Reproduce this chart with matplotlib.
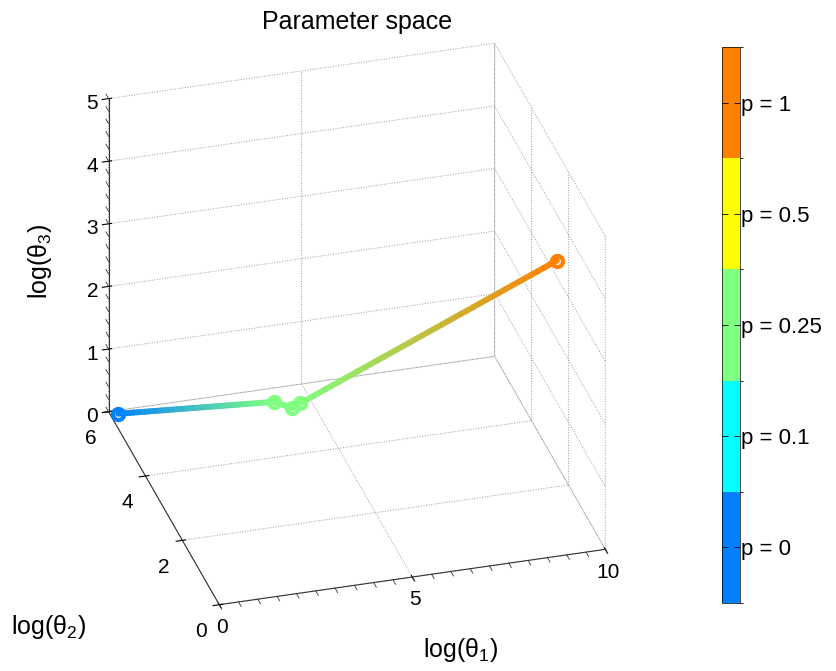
import numpy as np
import matplotlib
matplotlib.use("Agg")
import matplotlib.pyplot as plt
from matplotlib.colors import ListedColormap, BoundaryNorm, to_rgb
from mpl_toolkits.mplot3d.art3d import Line3DCollection

plt.rcParams['font.family'] = ['Liberation Sans', 'DejaVu Sans']
plt.rcParams['mathtext.fontset'] = 'custom'
plt.rcParams['mathtext.rm'] = 'Liberation Sans'
plt.rcParams['mathtext.it'] = 'Liberation Sans'
plt.rcParams['grid.color'] = '#9a9a9a'
plt.rcParams['grid.linestyle'] = ':'
plt.rcParams['grid.linewidth'] = 0.7

# path through parameter space (log values)
theta1 = [0.2, 4.1, 4.45, 4.7, 9.8]
theta2 = [5.9, 5.6, 5.35, 5.45, 2.2]
theta3 = [0.0, 0.0, 0.0, 0.0, 3.5]
p_point = [0, 0.25, 0.25, 0.25, 1]

p_levels = [0, 0.1, 0.25, 0.5, 1]
p_labels = ['p = 0', 'p = 0.1', 'p = 0.25', 'p = 0.5', 'p = 1']
p_colors = ['#0080ff', '#00ffff', '#80ff80', '#ffff00', '#ff8000']

xticks = [0, 5, 10]
yticks = [0, 2, 4, 6]
zticks = [0, 1, 2, 3, 4, 5]

fig = plt.figure(figsize=(8.36, 6.71), dpi=100)
ax = fig.add_axes([0.0255, 0.0155, 0.7818, 0.977], projection='3d', proj_type='ortho')
ax.view_init(elev=30, azim=-106)
ax.set_box_aspect((1, 1, 0.9))

# colour of each point, blended linearly along the segments
pt_rgb = [np.array(to_rgb(p_colors[p_levels.index(p)])) for p in p_point]
segs, cols = [], []
n = 40
for i in range(len(theta1) - 1):
    for k in range(n):
        t0, t1 = k / n, (k + 1) / n
        a0 = [theta1[i] + (theta1[i + 1] - theta1[i]) * t0,
              theta2[i] + (theta2[i + 1] - theta2[i]) * t0,
              theta3[i] + (theta3[i + 1] - theta3[i]) * t0]
        a1 = [theta1[i] + (theta1[i + 1] - theta1[i]) * t1,
              theta2[i] + (theta2[i + 1] - theta2[i]) * t1,
              theta3[i] + (theta3[i + 1] - theta3[i]) * t1]
        segs.append([a0, a1])
        cols.append(pt_rgb[i] * (1 - (t0 + t1) / 2) + pt_rgb[i + 1] * (t0 + t1) / 2)
lc = Line3DCollection(segs, colors=cols, linewidths=4.2, capstyle='round')
ax.add_collection3d(lc)
for i in range(len(theta1)):
    ax.plot([theta1[i]], [theta2[i]], [theta3[i]], 'o', ms=8, mew=3,
            mec=pt_rgb[i], mfc='white')

# minor ticks like the original (x every 0.5, z every 0.2)
for xv in np.arange(0, 10.01, 0.5):
    ax.plot([xv, xv], [0, -0.14], [0, 0], color='#333333', lw=0.6)
for zv in np.arange(0, 5.01, 0.2):
    ax.plot([0, 0], [6, 6.14], [zv, zv], color='#333333', lw=0.6)

ax.set_xlim(0, 10)
ax.set_ylim(0, 6)
ax.set_zlim(0, 5)
ax.set_xticks(xticks)
ax.set_yticks(yticks)
ax.set_zticks(zticks)
for a in (ax.xaxis, ax.yaxis, ax.zaxis):
    a.set_pane_color((1, 1, 1, 0))
    a.pane.set_edgecolor((1, 1, 1, 0))
    a.line.set_color('#333333')
    a.line.set_linewidth(0.8)
ax.tick_params(labelsize=15, colors='black')
ax.tick_params(axis='x', pad=-1.5)
ax.tick_params(axis='z', pad=0)

fig.text(0.427, 0.967, 'Parameter space', ha='center', va='center', fontsize=18)
fig.text(0.551, 0.031, r'log(θ$_1$)', ha='center', va='center', fontsize=18)
fig.text(0.058, 0.066, r'log(θ$_2$)', ha='center', va='center', fontsize=18)
fig.text(0.048, 0.61, r'log(θ$_3$)', ha='center', va='center', fontsize=18, rotation=90)

cax = fig.add_axes([0.8636, 0.1013, 0.0215, 0.8286])
cmap = ListedColormap(p_colors)
norm = BoundaryNorm(np.arange(len(p_levels) + 1) - 0.5, cmap.N)
cb = fig.colorbar(plt.cm.ScalarMappable(norm=norm, cmap=cmap), cax=cax,
                  ticks=np.arange(len(p_levels)))
cb.ax.set_yticklabels(p_labels)
cb.ax.tick_params(labelsize=16, direction='in', length=4, width=0.6, left=True, right=True, pad=1)
cb.outline.set_linewidth(0.5)

fig.savefig('out.png', dpi=100)
